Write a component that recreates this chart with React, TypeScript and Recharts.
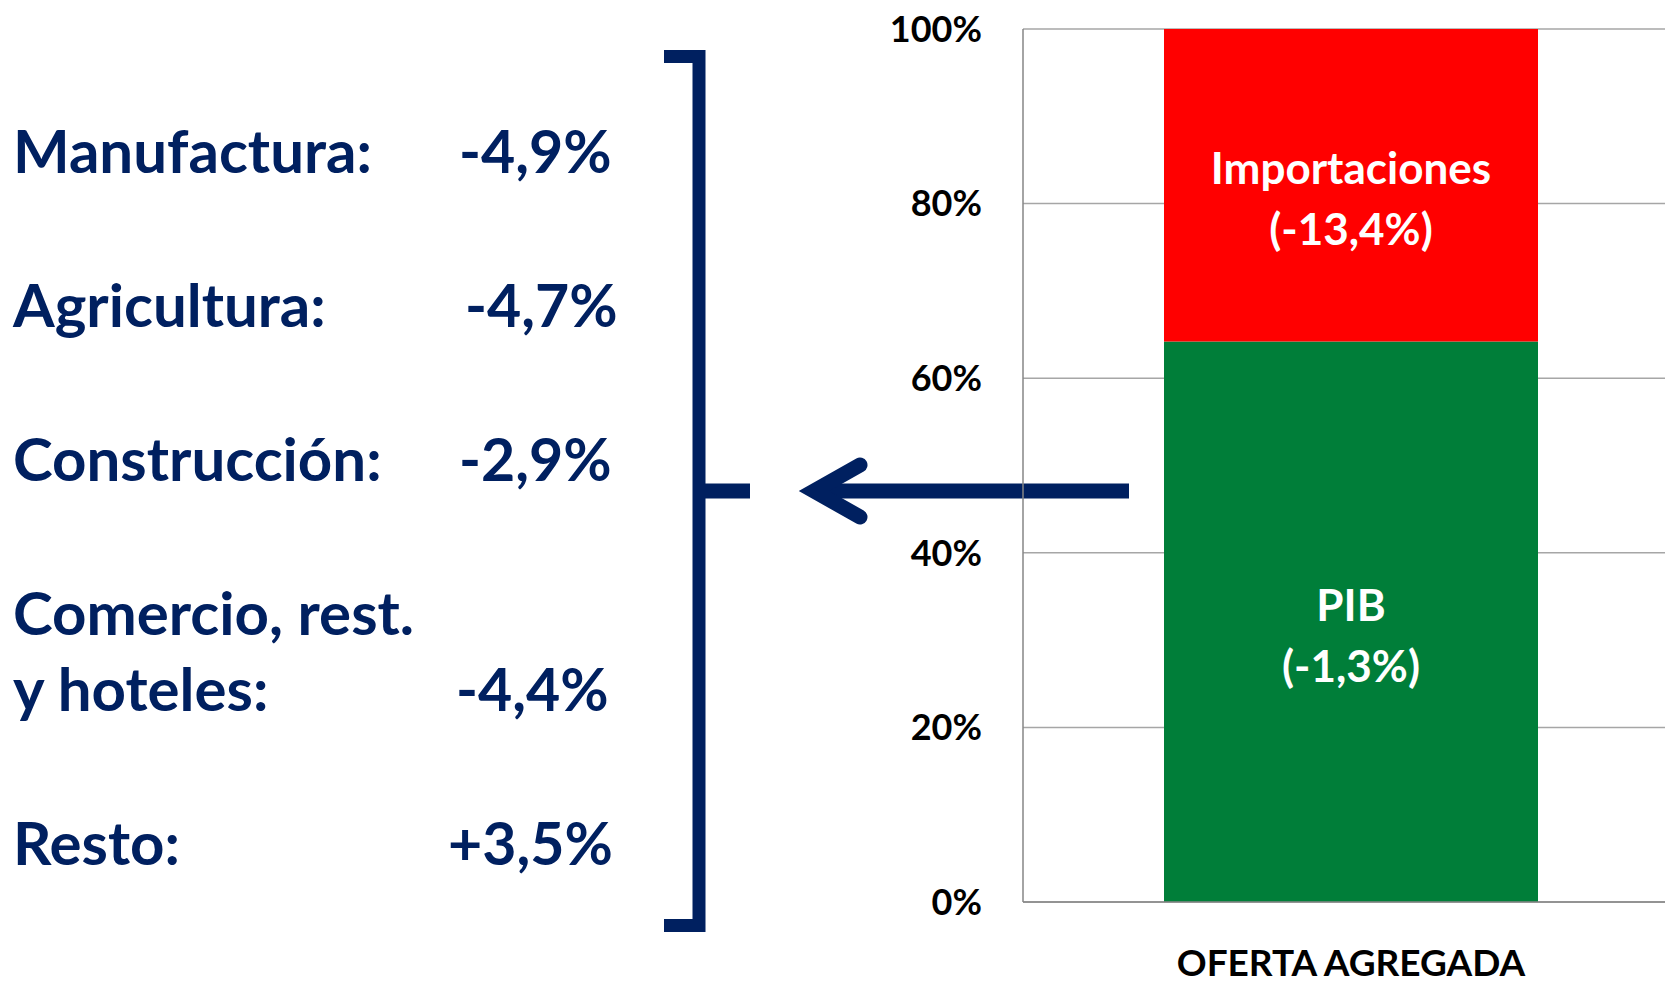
import { BarChart, Bar, XAxis, YAxis, CartesianGrid, LabelList } from 'recharts';

// aggregate supply split (share of total, %)
const categories = ['OFERTA AGREGADA'];
const pibShare = [64.2];
const importShare = [35.8];
const segmentTitles = ['PIB', 'Importaciones'];
const segmentGrowth = ['(-1,3%)', '(-13,4%)'];
const yTicks = [0, 20, 40, 60, 80, 100];

// sector growth shown next to the bracket
const sectors = [['Manufactura:'], ['Agricultura:'], ['Construcción:'], ['Comercio, rest.', 'y hoteles:'], ['Resto:']];
const sectorGrowth = ['-4,9%', '-4,7%', '-2,9%', '-4,4%', '+3,5%'];

const data = categories.map((name, i) => ({ name, pib: pibShare[i], imp: importShare[i] }));

const NAVY = '#002060';
const sectorRows = [173, 327, 481, 711, 865];
const valueX = [459, 465, 459, 456, 448];

function segmentLabel(idx: number) {
  return (props: any) => {
    const { x, y, width, height } = props;
    const cx = Number(x) + Number(width) / 2;
    const cy = Number(y) + Number(height) / 2;
    return (
      <g>
        <text x={cx} y={cy - 1} textAnchor="middle" fill="#fff" fontSize={44} fontWeight={700}>
          {segmentTitles[idx]}
        </text>
        <text x={cx} y={cy + 60} textAnchor="middle" fill="#fff" fontSize={44} fontWeight={700}>
          {segmentGrowth[idx]}
        </text>
      </g>
    );
  };
}

function Annotations() {
  return (
    <svg width={1665} height={985} style={{ position: 'absolute', left: 0, top: 0 }}>
      {sectors.map((lines, i) => (
        <g key={i}>
          {lines.map((ln, j) => (
            <text
              key={j}
              x={13}
              y={sectorRows[i] - (lines.length - 1 - j) * 76}
              fill={NAVY}
              fontSize={60}
              fontWeight={700}
            >
              {ln}
            </text>
          ))}
          <text x={valueX[i]} y={sectorRows[i]} fill={NAVY} fontSize={59} fontWeight={700}>
            {sectorGrowth[i]}
          </text>
        </g>
      ))}
      {/* bracket */}
      <path d="M 664 56.5 H 699 V 925.5 H 664" fill="none" stroke={NAVY} strokeWidth={13} />
      <line x1={699} y1={491} x2={750} y2={491} stroke={NAVY} strokeWidth={15} />
      {/* arrow */}
      <line x1={1129} y1={491} x2={820} y2={491} stroke={NAVY} strokeWidth={15} />
      <polyline
        points="860,465 814,491 860,517"
        fill="none"
        stroke={NAVY}
        strokeWidth={15}
        strokeLinecap="round"
        strokeLinejoin="miter"
      />
    </svg>
  );
}

export default function App() {
  return (
    <div
      style={{
        position: 'absolute',
        left: 0,
        top: 0,
        width: 1665,
        height: 985,
        overflow: 'hidden',
        background: '#fff',
        fontFamily: 'Lato, sans-serif',
      }}
    >
      <Annotations />
      <div style={{ position: 'absolute', left: 0, top: 0 }}>
        <BarChart width={1680} height={985} data={data} margin={{ top: 29, right: 1, bottom: 0, left: 0 }}>
          <CartesianGrid vertical={false} stroke="#a6a6a6" strokeWidth={1.5} />
          <XAxis
            dataKey="name"
            height={83}
            axisLine={{ stroke: '#868686', strokeWidth: 1.5 }}
            tickLine={false}
            tickSize={0}
            tickMargin={48}
            tick={{ fill: '#000', fontSize: 37, fontWeight: 700 }}
          />
          <YAxis
            width={1023}
            domain={[0, 100]}
            ticks={yTicks}
            tickFormatter={(v) => `${v}%`}
            axisLine={{ stroke: '#868686', strokeWidth: 1.5 }}
            tickLine={false}
            tickSize={0}
            tickMargin={41}
            tick={{ fill: '#000', fontSize: 36, fontWeight: 700 }}
          />
          <Bar dataKey="pib" stackId="a" fill="#007e39" barSize={374} isAnimationActive={false}>
            <LabelList dataKey="pib" content={segmentLabel(0)} />
          </Bar>
          <Bar dataKey="imp" stackId="a" fill="#ff0000" barSize={374} isAnimationActive={false}>
            <LabelList dataKey="imp" content={segmentLabel(1)} />
          </Bar>
        </BarChart>
      </div>
    </div>
  );
}
